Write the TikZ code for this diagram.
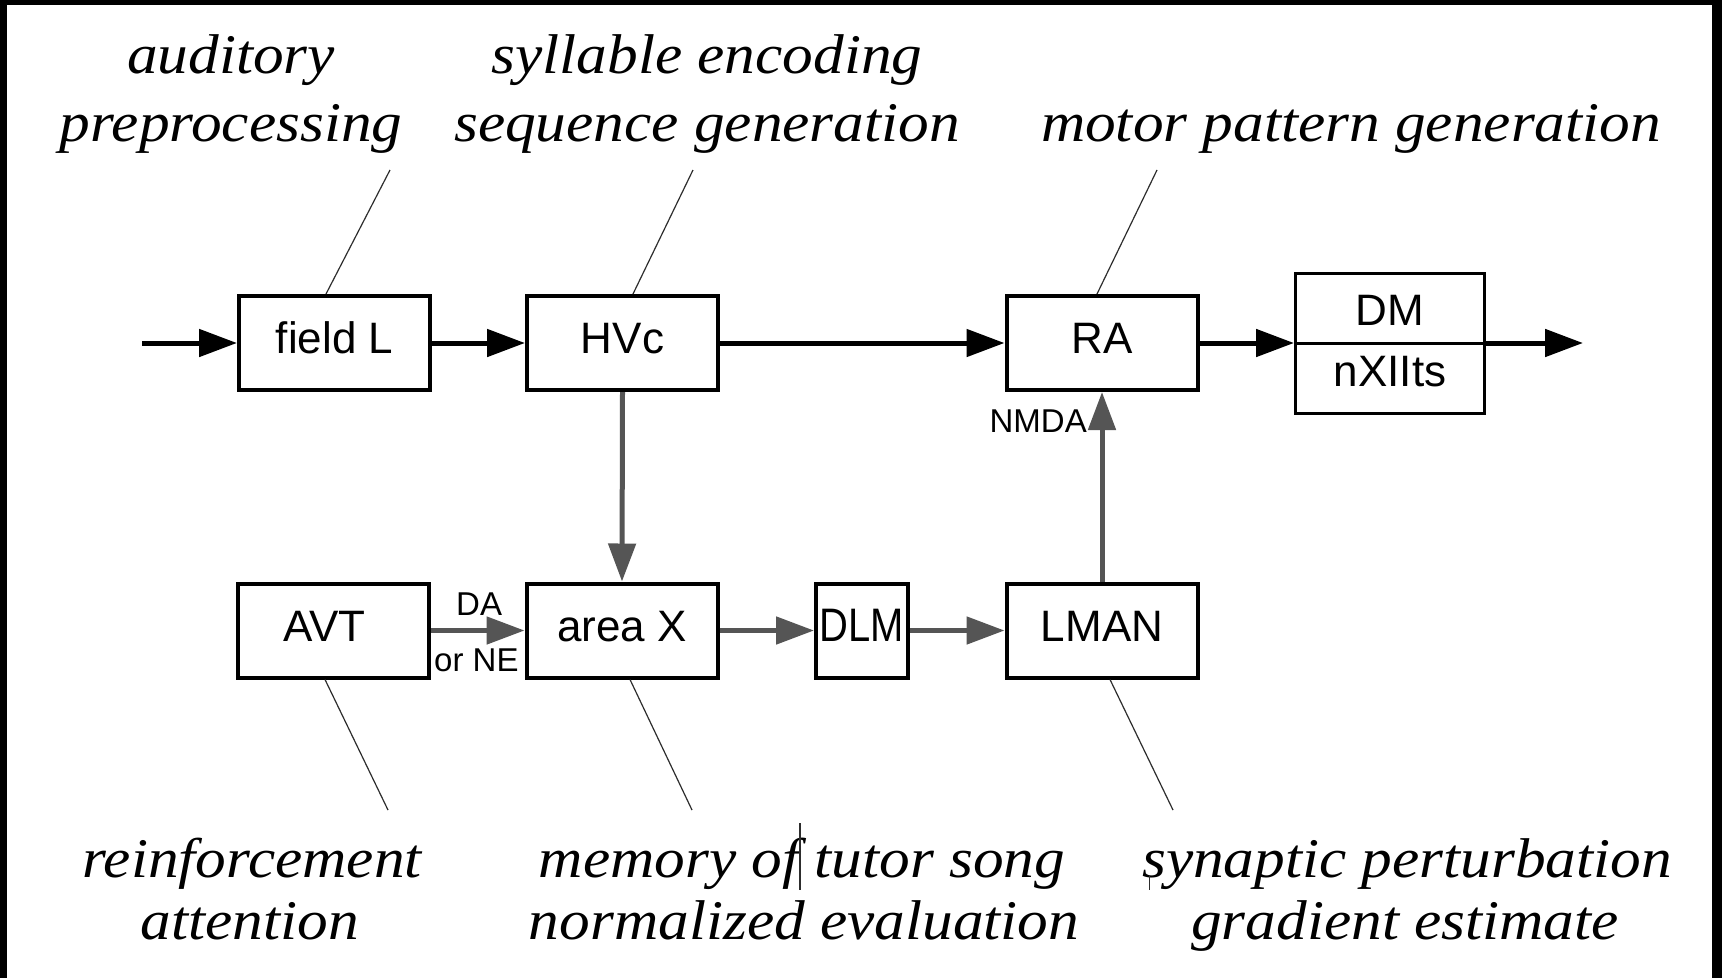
\documentclass[tikz,border=0pt]{standalone}
\usepackage{fontspec}
\setmainfont{Liberation Serif}[ItalicFont={Liberation Serif Italic}]
\setsansfont{Liberation Sans}
\usepackage{graphicx}
\usetikzlibrary{arrows.meta}
\definecolor{agray}{RGB}{85,85,85}
\definecolor{lgray}{RGB}{45,45,45}
\newcommand{\capscale}[1]{\scalebox{1.095}[1]{#1}}
\begin{document}
\begin{tikzpicture}[x=1pt,y=-1pt,
  box/.style={draw=black, line width=4pt, minimum width=191pt, minimum height=94pt, inner sep=0pt,
    font=\sffamily\fontsize{44}{48}\selectfont, text height=30pt, text depth=9pt},
  blk/.style={draw=black, line width=5pt, -{Triangle[length=38pt,width=27pt]}},
  gry/.style={draw=agray, color=agray, line width=5pt, -{Triangle[length=38pt,width=27pt]}},
  lead/.style={draw=lgray, line width=1.2pt},
  capt/.style={anchor=base, inner sep=0pt, font=\itshape\fontsize{56}{60}\selectfont},
  smalllbl/.style={inner sep=0pt, font=\sffamily\fontsize{33}{36}\selectfont}
]
\useasboundingbox (0,0) rectangle (1722,978);
\fill[white] (0,0) rectangle (1722,978);
\fill[black] (0,0) rectangle (1722,5);
\fill[black] (0,0) rectangle (7,978);
\fill[black] (1712,0) rectangle (1722,978);

% boxes
\node[box] (fieldL) at (334.5,343) {field L};
\node[box] (HVc) at (622.5,343) {HVc};
\node[box] (RA) at (1102,343) {RA};
\node[box] (AVT) at (333.5,630.5) {\hspace*{-18pt}AVT};
\node[box] (areaX) at (622,630.5) {area X};
\node[box, minimum width=92pt] (DLM) at (862,630.5) {\fontsize{47}{48}\selectfont\scalebox{0.85}[1]{DLM}};
\node[box] (LMAN) at (1102,630.5) {LMAN};
\node[box, line width=3pt, minimum width=189pt, minimum height=69.5pt, text height=35pt, text depth=0pt] (DM) at (1390,308.25) {DM};
\node[box, line width=3pt, minimum width=189pt, minimum height=70.5pt, text height=30pt, text depth=14pt] (nXIIts) at (1390,378.25) {nXIIts};

% main pathway
\coordinate (in) at (142,343);
\coordinate (out) at (1583,343);
\draw[blk] (in) -- (fieldL.west);
\draw[blk] (fieldL.east) -- (HVc.west);
\draw[blk] (HVc.east) -- (RA.west);
\draw[blk] (RA.east) -- (RA.east -| DM.south west);
\draw[blk] (out -| DM.south east) -- (out);

% anterior forebrain pathway
\draw[gry] (HVc.south) -- (areaX.north);
\draw[gry] (AVT.east) -- (areaX.west);
\draw[gry] (areaX.east) -- (DLM.west);
\draw[gry] (DLM.east) -- (LMAN.west);
\draw[gry] (LMAN.north) -- (RA.south);

% small labels
\node[smalllbl, anchor=base west] (DA) at (456,615) {DA};
\node[smalllbl, anchor=base west] (orNE) at (434,671) {or NE};
\node[smalllbl, anchor=base east] (NMDA) at (1087,432) {NMDA};

% captions
\node[capt] (aud1) at (231,73) {\capscale{auditory}};
\node[capt] (aud2) at (231,141) {\capscale{preprocessing}};
\node[capt] (syl1) at (707,73) {\capscale{syllable encoding}};
\node[capt] (syl2) at (707,141) {\capscale{sequence generation}};
\node[capt] (mot) at (1351,141) {\capscale{motor pattern generation}};
\node[capt] (rei1) at (252,877) {\capscale{reinforcement}};
\node[capt] (rei2) at (250,939) {\capscale{attention}};
\node[capt] (mem1) at (802,877) {\capscale{memory of tutor song}};
\node[capt] (mem2) at (804,939) {\capscale{normalized evaluation}};
\node[capt] (syn1) at (1407,877) {\capscale{synaptic perturbation}};
\node[capt] (syn2) at (1405,939) {\capscale{gradient estimate}};

% leader lines
\coordinate (lA) at (390,170);
\coordinate (lB) at (693,170);
\coordinate (lC) at (1157,170);
\coordinate (lD) at (388,810);
\coordinate (lE) at (692,810);
\coordinate (lF) at (1173,810);
\draw[lead] (lA) -- ([xshift=-8.5pt]fieldL.north);
\draw[lead] (lB) -- ([xshift=10.5pt]HVc.north);
\draw[lead] (lC) -- ([xshift=-5pt]RA.north);
\draw[lead] ([xshift=-8.5pt]AVT.south) -- (lD);
\draw[lead] ([xshift=8pt]areaX.south) -- (lE);
\draw[lead] ([xshift=8pt]LMAN.south) -- (lF);

% stray marks
\draw[lgray, line width=1.2pt] (800,823) -- (800,890);
\draw[lgray, line width=1pt] (1149,875) -- (1149,890);
\end{tikzpicture}
\end{document}
